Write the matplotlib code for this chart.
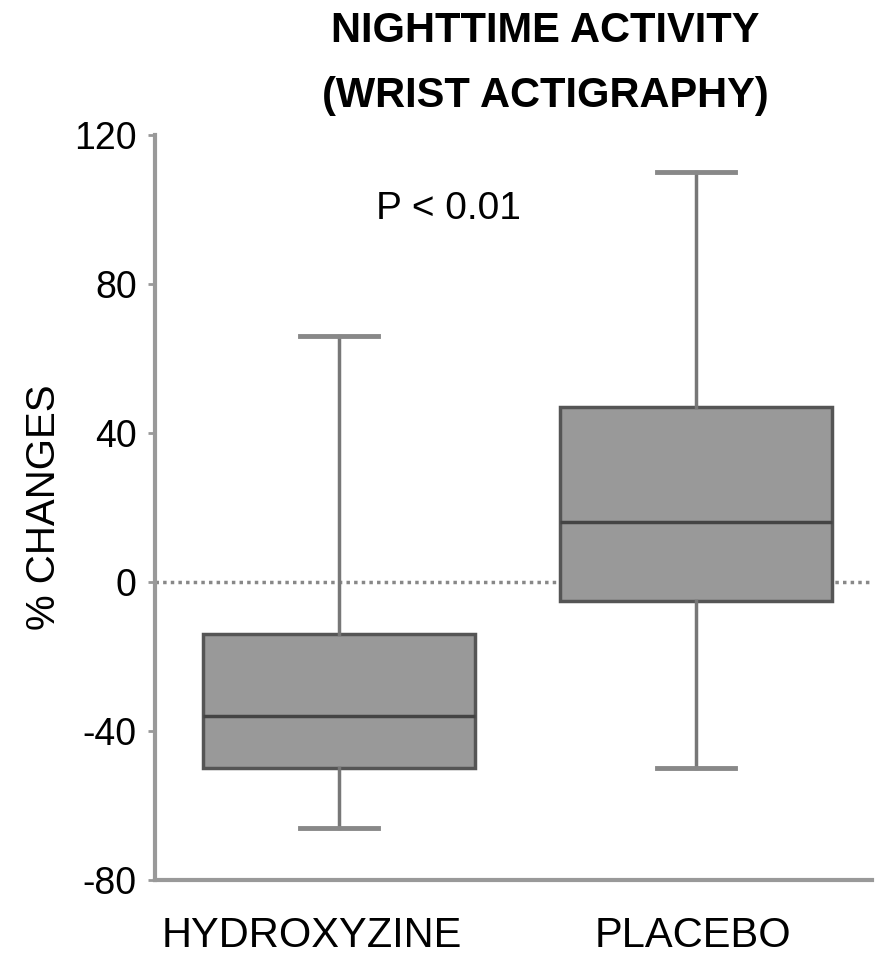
import matplotlib.pyplot as plt

plt.rcParams['font.family'] = ['Liberation Sans', 'DejaVu Sans']

categories = ["HYDROXYZINE", "PLACEBO"]
whislo = [-66, -50]
q1 = [-50, -5]
med = [-36, 16]
q3 = [-14, 47]
whishi = [66, 110]
yticks = [-80, -40, 0, 40, 80, 120]

stats = []
for lab, lo, a, m, b, hi in zip(categories, whislo, q1, med, q3, whishi):
    stats.append(dict(label=lab, whislo=lo, q1=a, med=m, q3=b, whishi=hi, fliers=[]))

fig = plt.figure(figsize=(8.85, 9.58), dpi=100)
ax = fig.add_axes([0.175, 0.0814, 0.81, 0.778])

ax.axhline(0, color="#888888", lw=2.5, ls=(0, (1, 1.2)), zorder=1)

ax.bxp(stats, positions=[1, 2], widths=0.76, patch_artist=True, showfliers=False,
       boxprops=dict(facecolor="#999999", edgecolor="#555555", lw=2.5),
       medianprops=dict(color="#444444", lw=2.5),
       whiskerprops=dict(color="#777777", lw=2.5),
       capprops=dict(color="#888888", lw=3.5), capwidths=0.22, zorder=2)

ax.set_xlim(0.484, 2.492)
ax.set_ylim(-80, 120)
ax.set_yticks(yticks)
ax.set_yticklabels([str(t) for t in yticks], fontsize=27)
# category labels sit a little left of the box centres
ax.set_xticks([0.925, 1.99])
ax.set_xticklabels(categories, fontsize=30)
ax.tick_params(axis="x", length=0, pad=26)
ax.tick_params(axis="y", length=5, width=2, color="#999999", pad=8)
ax.set_ylabel("% CHANGES", fontsize=29, labelpad=8)

for side in ["top", "right"]:
    ax.spines[side].set_visible(False)
for side in ["left", "bottom"]:
    ax.spines[side].set_color("#999999")
    ax.spines[side].set_linewidth(3)

ax.text(0.41, 0.9, "P < 0.01", transform=ax.transAxes, ha="center", va="center", fontsize=28)

fig.text(0.616, 0.968, "NIGHTTIME ACTIVITY", ha="center", va="center", fontsize=30, fontweight="bold")
fig.text(0.616, 0.9, "(WRIST ACTIGRAPHY)", ha="center", va="center", fontsize=30, fontweight="bold")

fig.savefig("out.png", dpi=100, facecolor="white")
